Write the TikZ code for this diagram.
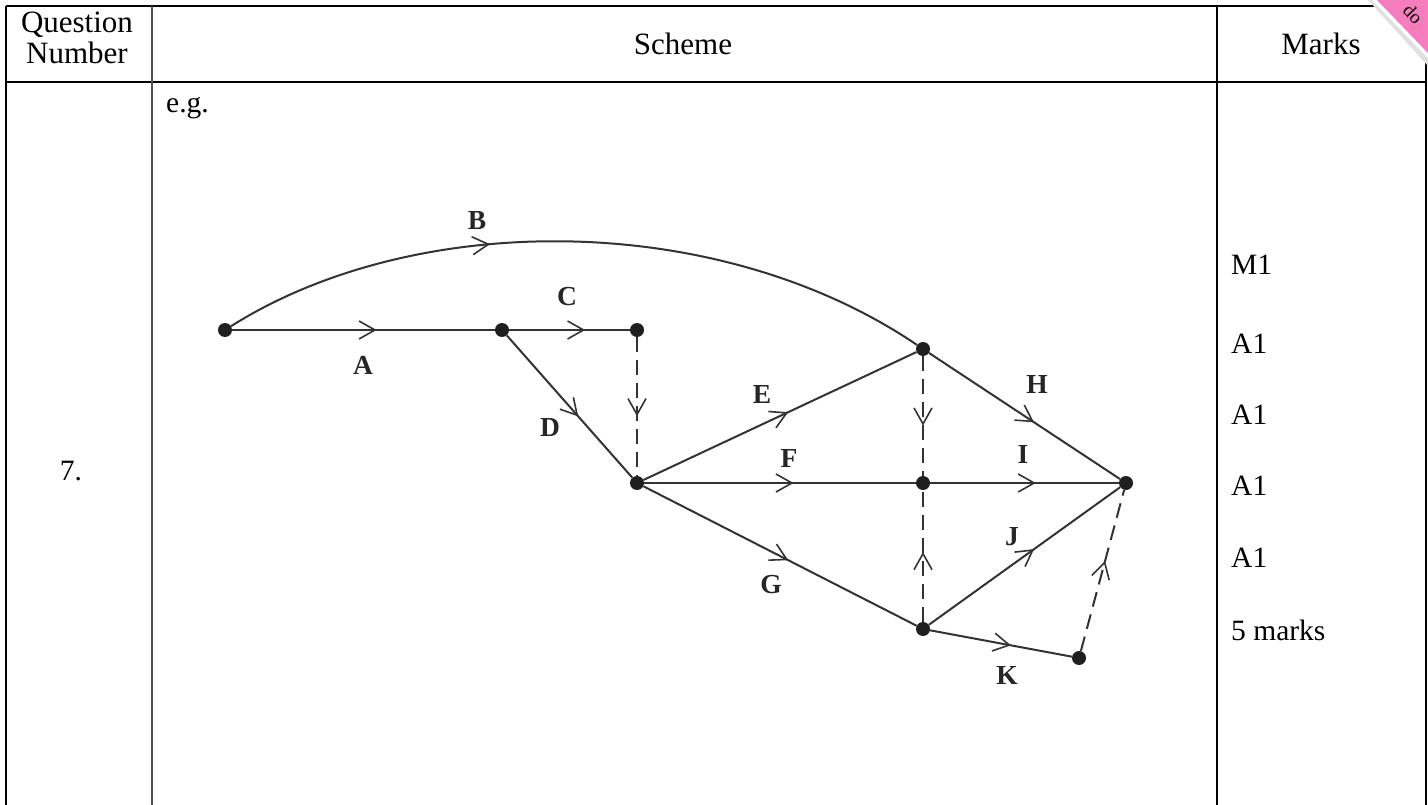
\documentclass[tikz,border=0pt]{standalone}
\usepackage{fontspec}
\setmainfont{Liberation Serif}
\usetikzlibrary{arrows.meta,decorations.markings}
\definecolor{edgecol}{HTML}{333333}
\definecolor{stamppink}{HTML}{F67DBD}
\definecolor{gridgray}{HTML}{505050}
\tikzset{
  tabline/.style={line width=1.6pt,black},
  coldiv/.style={line width=1.8pt,gridgray},
  headtxt/.style={font=\fontsize{31}{31}\selectfont,inner sep=0pt},
  marktxt/.style={font=\fontsize{29.5}{29.5}\selectfont,inner sep=0pt,anchor=base west},
  dot/.style={circle,fill=black!88,inner sep=0pt,minimum size=14pt},
  edge/.style={line width=2pt,edgecol},
  dummy/.style={edge,dash pattern=on 15pt off 8pt},
  lbl/.style={font=\fontsize{27.5}{27.5}\selectfont\bfseries,inner sep=0pt,text=black!85},
  midarrow/.style={postaction={decorate,decoration={markings,
     mark=at position #1 with {\arrow[edgecol,solid,line width=1.6pt]{Straight Barb[length=16pt,width=18pt]}}}}},
  midarrow/.default=0.55
}
\begin{document}
\begin{tikzpicture}[x=1pt,y=-1pt]
\useasboundingbox (0,0) rectangle (1428,805);
\fill[white] (0,0) rectangle (1428,805);
% table
\draw[tabline] (6,6) -- (1426,6);
\draw[tabline] (6,82) -- (1426,82);
\draw[tabline] (6,6) -- (6,805);
\draw[coldiv] (152,6) -- (152,805);
\draw[tabline] (1217,6) -- (1217,805);
\draw[tabline] (1426,6) -- (1426,805);
% header texts
\node[headtxt,anchor=base] (hq1) at (77,33) {Question};
\node[headtxt,anchor=base] (hq2) at (77,64) {Number};
\node[headtxt,anchor=base] (hs) at (683,55) {Scheme};
\node[headtxt,anchor=base] (hm) at (1321,55) {Marks};
\node[headtxt,anchor=base,font=\fontsize{29.5}{29.5}\selectfont] (qn) at (71,480) {7.};
\node[marktxt] (eg) at (166,113) {e.g.};
% marks
\node[marktxt] (m1) at (1231,275) {M1};
\node[marktxt] (m2) at (1231,353) {A1};
\node[marktxt] (m3) at (1231,424) {A1};
\node[marktxt] (m4) at (1231,495) {A1};
\node[marktxt] (m5) at (1231,567) {A1};
\node[marktxt] (m6) at (1231,640) {5 marks};
% network nodes
\node[dot] (n1) at (225,330) {};
\node[dot] (n2) at (502,330) {};
\node[dot] (n3) at (637,330) {};
\node[dot] (n4) at (637,483) {};
\node[dot] (n5) at (923,349) {};
\node[dot] (n6) at (923,483) {};
\node[dot] (n7) at (923,629) {};
\node[dot] (n8) at (1126,483) {};
\node[dot] (n9) at (1079,658) {};
% activities
\draw[edge,midarrow=0.55] (n1) -- (n2);
\draw[edge,midarrow=0.38] (n1) .. controls (415,210) and (718,210) .. (n5);
\draw[edge,midarrow=0.63] (n2) -- (n3);
\draw[edge,midarrow=0.57] (n2) -- (n4);
\draw[dummy,midarrow=0.57] (n3) -- (n4);
\draw[edge,midarrow=0.53] (n4) -- (n5);
\draw[edge,midarrow=0.55] (n4) -- (n6);
\draw[edge,midarrow=0.53] (n4) -- (n7);
\draw[dummy,midarrow=0.58] (n5) -- (n6);
\draw[dummy,midarrow=0.53] (n7) -- (n6);
\draw[edge,midarrow=0.55] (n5) -- (n8);
\draw[edge,midarrow=0.56] (n6) -- (n8);
\draw[edge,midarrow=0.55] (n7) -- (n8);
\draw[edge,midarrow=0.57] (n7) -- (n9);
\draw[dummy,midarrow=0.56] (n9) -- (n8);
% labels
\node[lbl] (lA) at (363,365) {A};
\node[lbl] (lB) at (477,221) {B};
\node[lbl] (lC) at (567,297) {C};
\node[lbl] (lD) at (550,428) {D};
\node[lbl] (lE) at (762,394) {E};
\node[lbl] (lF) at (789,458) {F};
\node[lbl] (lG) at (771,585) {G};
\node[lbl] (lH) at (1037,384) {H};
\node[lbl] (lI) at (1023,454) {I};
\node[lbl] (lJ) at (1012,537) {J};
\node[lbl] (lK) at (1007,675) {K};
% corner stamp
\fill[black!12] (1368,0) -- (1377,0) -- (1428,53) -- (1428,66) -- cycle;
\fill[white] (1372,0) -- (1377,0) -- (1428,53) -- (1428,58) -- cycle;
\fill[stamppink] (1377,0) -- (1428,0) -- (1428,53) -- cycle;
\node[font=\fontsize{19}{19}\selectfont,rotate=-47,inner sep=0pt] (st) at (1413,14) {do};
\end{tikzpicture}
\end{document}
